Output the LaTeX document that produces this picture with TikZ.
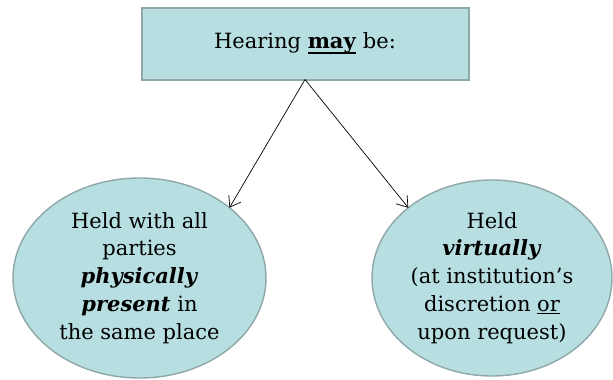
\documentclass[tikz,border=0pt]{standalone}
\usepackage{fontspec}
\setmainfont{DejaVu Serif}
\usepackage{tikz}
\usetikzlibrary{shapes.geometric}
\usetikzlibrary{arrows.meta}
\definecolor{paleblue}{HTML}{B7DFE2}
\definecolor{greyrim}{HTML}{8FA7A9}
\newcommand{\hearfont}{\fontsize{21}{27.8}\selectfont}
\newcommand{\thickunder}[1]{{\setbox0\hbox{#1}\rlap{\vrule width \wd0 height -3pt depth 5pt}\box0}}
\tikzstyle{headbox}=[draw=greyrim, line width=2pt, fill=paleblue, inner sep=0, outer sep=0, minimum width=327, minimum height=72, font=\hearfont]
\tikzstyle{option}=[ellipse, draw=greyrim, line width=1.4pt, fill=paleblue, inner sep=0, outer sep=0, align=center, font=\hearfont]
\tikzstyle{link}=[-{Straight Barb[length=10pt, width=14pt, line width=0.7pt]}, black, line width=0.7pt]
\begin{document}
\begin{tikzpicture}[x=1pt, y=-1pt]
        \useasboundingbox (0, 0) rectangle (613, 380);
        \node[headbox] (hear) at (305, 43.5) {Hearing \thickunder{\textbf{may}} be:};
        \node[option, minimum width=253, minimum height=200] (phys) at (139.5, 278)
            {Held with all\\parties\\\textbf{\textit{physically}}\\\textbf{\textit{present}} in\\the same place};
        \node[option, minimum width=240, minimum height=196] (virt) at (492, 278)
            {Held\\\textbf{\textit{virtually}}\\(at institution's\\discretion \underline{or}\\upon request)};
        \draw[link] (hear.south) -- (phys.38);
        \draw[link] (hear.south) -- (virt.140);
    \end{tikzpicture}
\end{document}
